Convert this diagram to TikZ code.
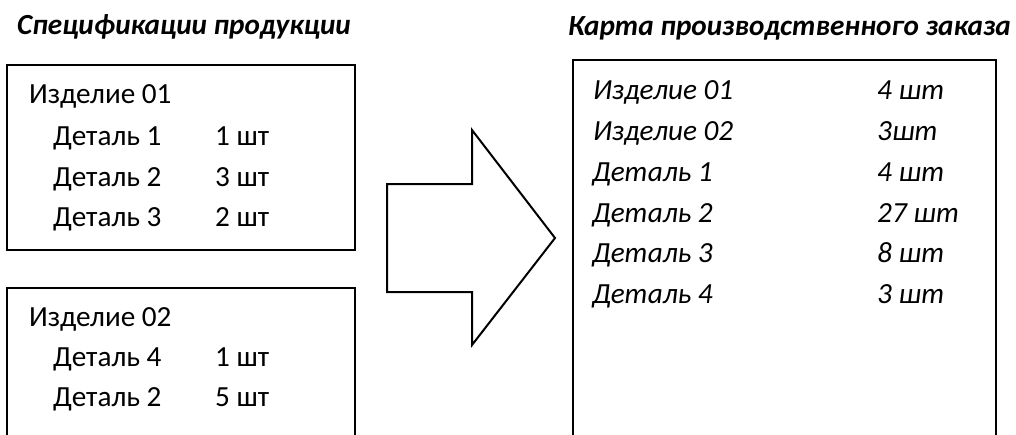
\documentclass[tikz,border=0pt]{standalone}
\usepackage{fontspec}
\setmainfont{Carlito}
\begin{document}
\begin{tikzpicture}[x=1pt,y=-1pt,
  frame/.style={draw=black,line width=2pt,line join=miter},
  heading/.style={anchor=base west,inner sep=0pt,font=\fontsize{29.2}{34}\selectfont\bfseries\itshape},
  item/.style={anchor=base west,inner sep=0pt,font=\fontsize{29.2}{34}\selectfont},
  itemit/.style={item,font=\fontsize{29.2}{34}\selectfont\itshape}]
\useasboundingbox (0,0) rectangle (1016,434);
\clip (0,0) rectangle (1016,434);

% headings
\node[heading] (hspec) at (17,34.5) {Спецификации продукции};
\node[heading] (horder) at (568,35) {Карта производственного заказа};

% specification of product 01
\draw[frame] (7,65) rectangle (355,250);
\node[item] (p1) at (29,103) {Изделие 01};
\node[item] (p1d1) at (53,145.5) {Деталь 1};
\node[item] (p1q1) at (215,145.5) {1 шт};
\node[item] (p1d2) at (53,186) {Деталь 2};
\node[item] (p1q2) at (215,186) {3 шт};
\node[item] (p1d3) at (53,226.5) {Деталь 3};
\node[item] (p1q3) at (215,226.5) {2 шт};

% specification of product 02 (runs off the page)
\draw[frame] (7,450) -- (7,288) -- (355,288) -- (355,450);
\node[item] (p2) at (29,326.5) {Изделие 02};
\node[item] (p2d4) at (53,366.5) {Деталь 4};
\node[item] (p2q4) at (215,366.5) {1 шт};
\node[item] (p2d2) at (53,406.5) {Деталь 2};
\node[item] (p2q2) at (215,406.5) {5 шт};

% block arrow
\draw[frame] (387,184) -- (472,184) -- (472,130) -- (555,238)
  -- (472,345) -- (472,292) -- (387,292) -- cycle;

% production order card
\draw[frame] (573,450) -- (573,60) -- (996,60) -- (996,450);
\node[itemit] (o1) at (593,99.5) {Изделие 01};
\node[itemit] (o1q) at (877,99.5) {4 шт};
\node[itemit] (o2) at (593,140.5) {Изделие 02};
\node[itemit] (o2q) at (877,140.5) {3шт};
\node[itemit] (o3) at (592,181) {Деталь 1};
\node[itemit] (o3q) at (877,181) {4 шт};
\node[itemit] (o4) at (592,222) {Деталь 2};
\node[itemit] (o4q) at (877,222) {27 шт};
\node[itemit] (o5) at (592,262.5) {Деталь 3};
\node[itemit] (o5q) at (877,262.5) {8 шт};
\node[itemit] (o6) at (592,303.5) {Деталь 4};
\node[itemit] (o6q) at (877,303.5) {3 шт};
\end{tikzpicture}
\end{document}
